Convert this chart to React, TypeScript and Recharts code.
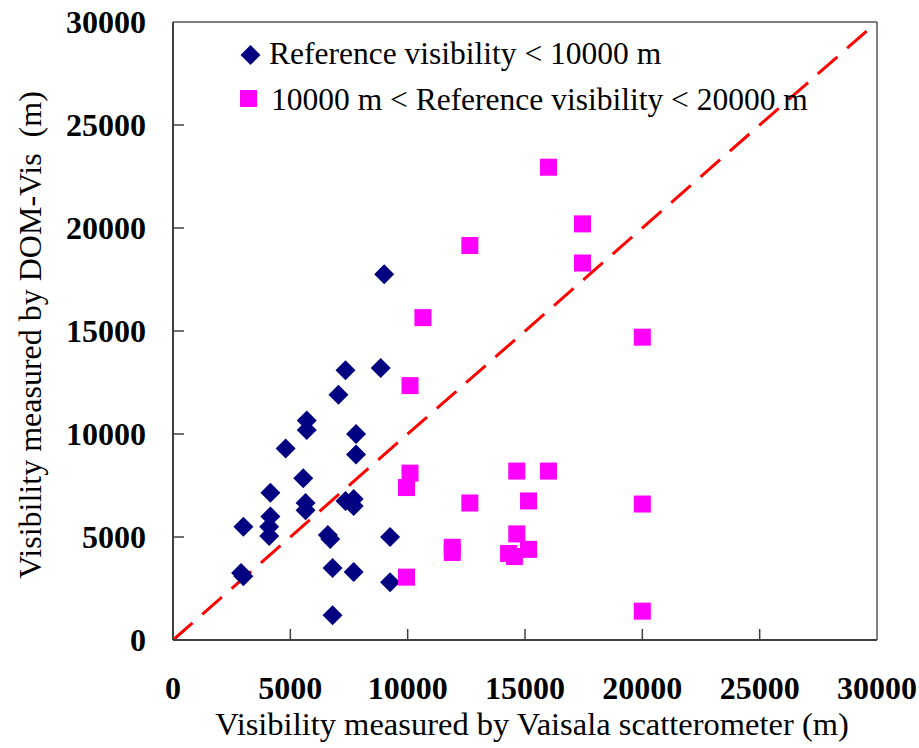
import {
  ReferenceLine,
  Scatter,
  ScatterChart,
  XAxis,
  YAxis,
  Label,
} from "recharts";

const FONT = '"Liberation Serif", "Times New Roman", serif';

// Reference visibility < 10000 m (x: Vaisala, y: DOM-Vis)
const blueX = [9000, 7350, 8850, 7050, 5700, 5700, 7800, 4800, 7800, 5550, 4150, 5650, 5650, 7350, 7700, 7700, 4150, 4100, 4100, 3000, 6600, 6700, 9250, 2900, 3000, 6800, 7700, 9250, 6800];
const blueY = [17750, 13100, 13200, 11900, 10650, 10200, 10000, 9300, 9000, 7850, 7150, 6650, 6300, 6750, 6850, 6500, 6000, 5500, 5050, 5500, 5100, 4900, 5000, 3250, 3100, 3500, 3300, 2800, 1200];

// 10000 m < Reference visibility < 20000 m
const pinkX = [16000, 17450, 12650, 17450, 10650, 20000, 10100, 10100, 9950, 14650, 16000, 12650, 15150, 20000, 14650, 11900, 11900, 14300, 14550, 15150, 9950, 20000];
const pinkY = [22950, 20200, 19150, 18300, 15650, 14700, 12350, 8100, 7400, 8200, 8200, 6650, 6750, 6600, 5150, 4500, 4250, 4200, 4050, 4400, 3050, 1400];

const ticks = [0, 5000, 10000, 15000, 20000, 25000, 30000];

const blueName = "Reference visibility < 10000 m";
const pinkName = "10000 m < Reference visibility < 20000 m";

const blueData = blueX.map((x, i) => ({ x, y: blueY[i] }));
const pinkData = pinkX.map((x, i) => ({ x, y: pinkY[i] }));

const Y_MARGIN = 27;
const X_MARGIN = 4;

const Diamond = (props: any) => {
  const { cx, cy } = props;
  const r = 10;
  return (
    <path
      d={`M${cx},${cy - r}L${cx + r},${cy}L${cx},${cy + r}L${cx - r},${cy}Z`}
      fill="#000080"
    />
  );
};

const Square = (props: any) => {
  const { cx, cy } = props;
  const s = 17;
  return <rect x={cx - s / 2} y={cy - s / 2} width={s} height={s} fill="#FF00FF" />;
};

const YTick = (props: any) => {
  const { x, y, payload } = props;
  const ax = x + Y_MARGIN;
  return (
    <g>
      {payload.value !== 0 && payload.value !== 30000 && (
        <line x1={ax} x2={ax + 11} y1={y} y2={y} stroke="#404040" strokeWidth={1.5} />
      )}
      <text x={x} y={y + 11} textAnchor="end" fontFamily={FONT} fontWeight="bold" fontSize={32} fill="#000">
        {payload.value}
      </text>
    </g>
  );
};

const XTick = (props: any) => {
  const { x, y, payload } = props;
  const ay = y - X_MARGIN;
  return (
    <g>
      {payload.value !== 0 && payload.value !== 30000 && (
        <line x1={x} x2={x} y1={ay} y2={ay - 11} stroke="#404040" strokeWidth={1.5} />
      )}
      <text x={x} y={ay + 59} textAnchor="middle" fontFamily={FONT} fontWeight="bold" fontSize={32} fill="#000">
        {payload.value}
      </text>
    </g>
  );
};

const LegendGroup = () => (
  <g>
    <path d="M250.5,45L260.5,55L250.5,65L240.5,55Z" fill="#000080" />
    <text x={269} y={64} fontFamily={FONT} fontSize={31.5} fill="#000">
      {blueName}
    </text>
    <rect x={240} y={90} width={17} height={17} fill="#FF00FF" />
    <text x={271} y={110} fontFamily={FONT} fontSize={31.5} fill="#000">
      {pinkName}
    </text>
  </g>
);

export default function App() {
  return (
    <div style={{ position: "absolute", left: 0, top: 0, width: 919, height: 748, background: "#fff" }}>
      <ScatterChart width={919} height={748} margin={{ top: 22, right: 42, left: 0, bottom: 0 }}>
        <XAxis
          type="number"
          dataKey="x"
          domain={[0, 30000]}
          ticks={ticks}
          tick={<XTick />}
          tickLine={false}
          tickSize={0}
          tickMargin={X_MARGIN}
          height={108}
          stroke="#404040"
          strokeWidth={2}
          interval={0}
        >
          <Label
            content={() => (
              <text x={532} y={735} textAnchor="middle" fontFamily={FONT} fontSize={32.5} fill="#000">
                Visibility measured by Vaisala scatterometer (m)
              </text>
            )}
          />
        </XAxis>
        <YAxis
          type="number"
          dataKey="y"
          domain={[0, 30000]}
          ticks={ticks}
          tick={<YTick />}
          tickLine={false}
          tickSize={0}
          tickMargin={Y_MARGIN}
          width={173}
          stroke="#404040"
          strokeWidth={2}
          interval={0}
        >
          <Label
            content={() => (
              <text
                x={30}
                y={335}
                transform="rotate(-90 30 335)"
                textAnchor="middle"
                dominantBaseline="central"
                fontFamily={FONT}
                fontSize={32}
                fill="#000"
                style={{ whiteSpace: "pre" }}
              >
                {"Visibility measured by DOM-Vis  (m)"}
              </text>
            )}
          />
        </YAxis>
        <ReferenceLine x={30000} stroke="#808080" strokeWidth={2} />
        <ReferenceLine
          segment={[
            { x: 0, y: 0 },
            { x: 30000, y: 30000 },
          ]}
          stroke="#FF0000"
          strokeWidth={3}
          strokeDasharray="26 13"
        />
        <Scatter name={blueName} data={blueData} shape={<Diamond />} isAnimationActive={false} />
        <Scatter name={pinkName} data={pinkData} shape={<Square />} isAnimationActive={false} />
        <ReferenceLine y={30000} stroke="#808080" strokeWidth={2}>
          <Label content={() => <LegendGroup />} />
        </ReferenceLine>
      </ScatterChart>
    </div>
  );
}
